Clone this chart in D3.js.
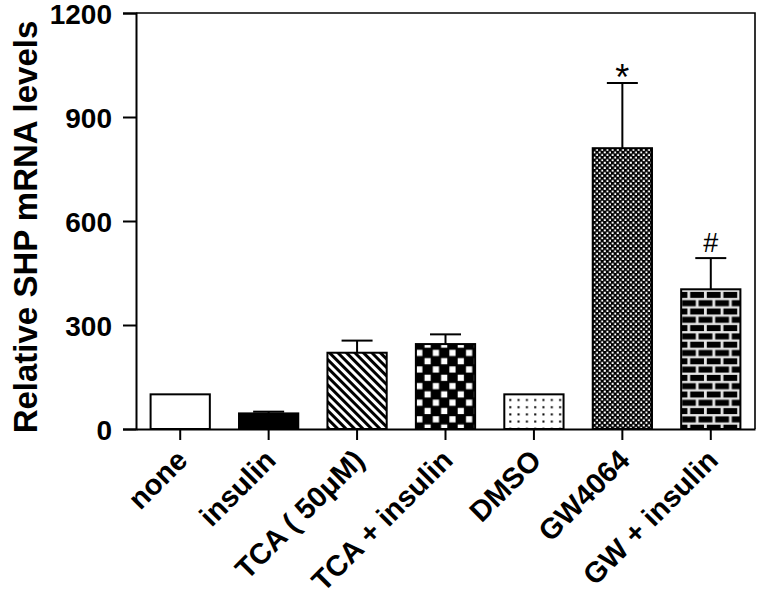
<!DOCTYPE html>
<html>
<head>
<meta charset="utf-8">
<script src="https://cdn.jsdelivr.net/npm/d3@7"></script>
<style>
  body { margin: 0; background: #fff; }
  svg { display: block; }
  text { font-family: "Liberation Sans", Arial, sans-serif; }
</style>
</head>
<body>
<svg id="chart" width="759" height="599"></svg>
<script>
const categories = ["none", "insulin", "TCA ( 50\u03BCM)", "TCA + insulin", "DMSO", "GW4064", "GW + insulin"];
const values = [100, 45, 220, 245, 100, 810, 403];
const errors = [0, 5, 35, 28, 0, 188, 90];
const marks = ["", "", "", "", "", "*", "#"];
const patterns = ["none", "solid", "stripes", "checker", "dots", "dense", "brick"];
const yTicks = [0, 300, 600, 900, 1200];

const svg = d3.select("#chart");
const mLeft = 136, mRight = 755, mTop = 13, mBottom = 429;

const x = d3.scaleBand().domain(categories).range([mLeft, mRight]).paddingInner(0.33).paddingOuter(0.165);
const y = d3.scaleLinear().domain([0, 1200]).range([mBottom, mTop]);

// Patterns
const defs = svg.append("defs");
const ps = defs.append("pattern").attr("id", "p-stripes").attr("patternUnits", "userSpaceOnUse")
  .attr("width", 6).attr("height", 6).attr("patternTransform", "rotate(-45)");
ps.append("rect").attr("width", 6).attr("height", 6).attr("fill", "#fff");
ps.append("rect").attr("x", 0).attr("width", 3).attr("height", 6).attr("fill", "#000");

const pc = defs.append("pattern").attr("id", "p-checker").attr("patternUnits", "userSpaceOnUse")
  .attr("width", 16.6).attr("height", 16.6);
pc.append("rect").attr("width", 16.6).attr("height", 16.6).attr("fill", "#000");
pc.append("rect").attr("x", 1.2).attr("y", 1.2).attr("width", 6.2).attr("height", 6.2).attr("fill", "#fff");
pc.append("rect").attr("x", 9.5).attr("y", 9.5).attr("width", 6.2).attr("height", 6.2).attr("fill", "#fff");

const pd = defs.append("pattern").attr("id", "p-dots").attr("patternUnits", "userSpaceOnUse")
  .attr("width", 8.3).attr("height", 7.2);
pd.append("rect").attr("width", 8.3).attr("height", 7.2).attr("fill", "#fff");
pd.append("rect").attr("x", 3).attr("y", 3).attr("width", 2).attr("height", 2).attr("fill", "#000");

const pn = defs.append("pattern").attr("id", "p-dense").attr("patternUnits", "userSpaceOnUse")
  .attr("width", 5.2).attr("height", 5.2);
pn.append("rect").attr("width", 5.2).attr("height", 5.2).attr("fill", "#000");
pn.append("rect").attr("x", 0.6).attr("y", 0.6).attr("width", 2).attr("height", 2).attr("fill", "#fff");
pn.append("rect").attr("x", 3.2).attr("y", 3.2).attr("width", 2).attr("height", 2).attr("fill", "#fff");

const pb = defs.append("pattern").attr("id", "p-brick").attr("patternUnits", "userSpaceOnUse")
  .attr("width", 16.6).attr("height", 16.6);
pb.append("rect").attr("width", 16.6).attr("height", 16.6).attr("fill", "#e4e4e4");
pb.append("rect").attr("x", 1.4).attr("y", 1.4).attr("width", 13.8).attr("height", 6).attr("fill", "#000");
pb.append("rect").attr("x", -7).attr("y", 9.7).attr("width", 13.8).attr("height", 6).attr("fill", "#000");
pb.append("rect").attr("x", 9.6).attr("y", 9.7).attr("width", 13.8).attr("height", 6).attr("fill", "#000");

function fillFor(p) {
  if (p === "none") return "#fff";
  if (p === "solid") return "#000";
  return "url(#p-" + p + ")";
}

// Frame (top and right)
svg.append("path")
  .attr("d", `M${mLeft},${mTop}H${mRight}V${mBottom}`)
  .attr("fill", "none").attr("stroke", "#000").attr("stroke-width", 1.6);

const data = categories.map((c, i) => ({c, v: values[i], e: errors[i], m: marks[i], p: patterns[i]}));

// Error bars
const eb = svg.append("g");
data.forEach(d => {
  if (d.e <= 0) return;
  const cx = x(d.c) + x.bandwidth() / 2;
  eb.append("line").attr("x1", cx).attr("x2", cx).attr("y1", y(d.v)).attr("y2", y(d.v + d.e))
    .attr("stroke", "#000").attr("stroke-width", 2);
  eb.append("line").attr("x1", cx - 15.5).attr("x2", cx + 15.5).attr("y1", y(d.v + d.e)).attr("y2", y(d.v + d.e))
    .attr("stroke", "#000").attr("stroke-width", 2);
});

// Bars
svg.append("g").selectAll("rect").data(data).join("rect")
  .attr("x", d => x(d.c))
  .attr("y", d => y(d.v))
  .attr("width", x.bandwidth())
  .attr("height", d => y(0) - y(d.v))
  .attr("fill", d => fillFor(d.p))
  .attr("stroke", "#000").attr("stroke-width", 2);

// Annotation marks
svg.append("g").selectAll("text").data(data.filter(d => d.m)).join("text")
  .attr("x", d => x(d.c) + x.bandwidth() / 2)
  .attr("y", d => y(d.v + d.e) + (d.m === "*" ? 7 : -6))
  .attr("text-anchor", "middle")
  .attr("font-size", d => d.m === "*" ? 36 : 27)
  .attr("font-family", d => d.m === "*" ? "Liberation Sans, sans-serif" : "Liberation Serif, serif")
  .text(d => d.m);

// Y axis
const yAxis = svg.append("g").attr("transform", `translate(${mLeft},0)`)
  .call(d3.axisLeft(y).tickValues(yTicks).tickSize(13).tickPadding(11).tickFormat(d3.format("d")));
yAxis.select(".domain").attr("stroke-width", 2);
yAxis.selectAll(".tick line").attr("stroke-width", 2);
yAxis.selectAll("text").attr("font-size", 28).attr("font-weight", "bold").attr("fill", "#000")
  .attr("dy", "0.36em");

// X axis
const xAxis = svg.append("g").attr("transform", `translate(0,${mBottom})`)
  .call(d3.axisBottom(x).tickSize(11).tickSizeOuter(0));
xAxis.select(".domain").attr("stroke-width", 2);
xAxis.selectAll(".tick line").attr("stroke-width", 2);
xAxis.selectAll("text")
  .attr("font-size", 29).attr("font-weight", "bold").attr("fill", "#000")
  .attr("text-anchor", "end")
  .attr("x", 0).attr("y", 0).attr("dy", 0)
  .attr("transform", "translate(9,33) rotate(-45)");

// Y label
svg.append("text")
  .attr("transform", `translate(37,${(mTop + mBottom) / 2 + 6}) rotate(-90)`)
  .attr("text-anchor", "middle")
  .attr("font-size", 33).attr("font-weight", "bold")
  .text("Relative SHP mRNA levels");
</script>
</body>
</html>
